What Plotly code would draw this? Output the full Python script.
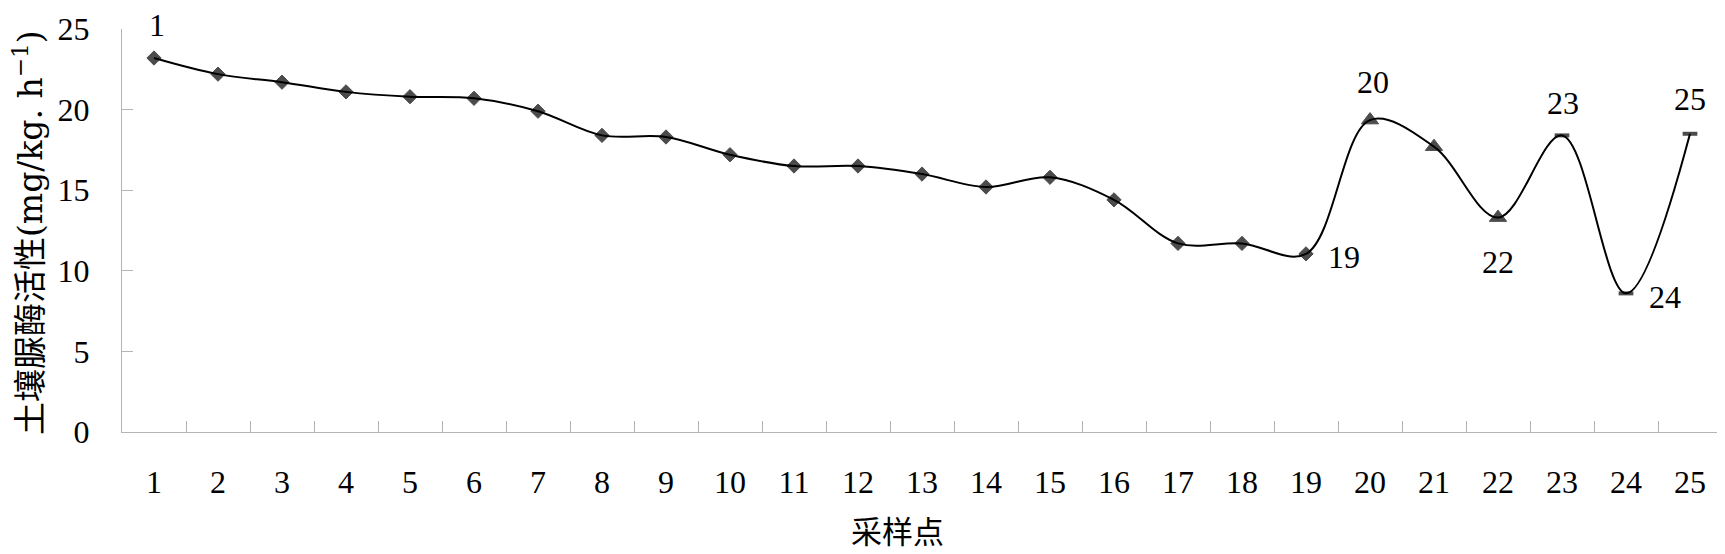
import plotly.graph_objects as go

# sampling points and urease activity (mg/kg.h-1)
points = [str(i) for i in range(1, 26)]
activity = [23.2, 22.2, 21.7, 21.1, 20.8, 20.7, 19.9, 18.4, 18.3, 17.2,
            16.5, 16.5, 16.0, 15.2, 15.8, 14.4, 11.7, 11.7, 11.05, 19.35,
            17.7, 13.3, 18.4, 8.6, 18.5]
symbols = ["diamond"] * 19 + ["triangle-up"] * 3 + ["line-ew"] * 3
labelled = ["1", "19", "20", "22", "23", "24", "25"]
y_ticks = [0, 5, 10, 15, 20, 25]

serif = "Liberation Serif, Noto Sans CJK SC, serif"

sizes = [11] * 19 + [15] * 3 + [10.5] * 3
line_w = [1] * 22 + [4] * 3

fig = go.Figure()
fig.add_trace(go.Scatter(
    x=points, y=activity,
    mode="lines+markers",
    line=dict(color="black", width=2, shape="spline", smoothing=1),
    marker=dict(symbol=symbols, size=sizes, color="black",
                line=dict(color="black", width=line_w)),
    showlegend=False,
))

# label offsets in pixels (x shift, y shift)
shifts = {"1": (3, 33), "19": (38, -3), "20": (3, 38), "22": (0, -44),
          "23": (1, 32), "24": (39, -4), "25": (0, 35)}
for p in labelled:
    i = points.index(p)
    dx, dy = shifts[p]
    # category axis: annotation x is the category index
    fig.add_annotation(x=i, y=activity[i], text=p, showarrow=False,
                       xshift=dx, yshift=dy,
                       font=dict(family=serif, size=32, color="black"))

fig.add_annotation(xref="paper", yref="paper", x=-0.0588, y=0.496,
                   text="土壤脲酶活性(mg/kg. h<sup>−1</sup>)", textangle=-90,
                   showarrow=False, xanchor="center", yanchor="middle",
                   font=dict(family="DejaVu Serif, Noto Sans CJK SC, serif",
                             size=33, color="black"))
fig.add_annotation(xref="paper", yref="paper", x=0.4846, y=-0.25,
                   text="采样点", showarrow=False,
                   xanchor="center", yanchor="middle",
                   font=dict(family=serif, size=31, color="black"))

fig.update_xaxes(type="category", tickson="boundaries", ticks="inside",
                 range=[-0.5, 24.5],
                 ticklen=11, tickcolor="#b4b4b4", showline=True,
                 linecolor="#b4b4b4", linewidth=1, showgrid=False,
                 zeroline=False, ticklabelstandoff=22,
                 tickfont=dict(family=serif, size=32, color="black"))
fig.update_yaxes(range=[0, 25], tickvals=y_ticks, ticks="inside",
                 ticklen=11, tickcolor="#b4b4b4", showline=True,
                 linecolor="#b4b4b4", linewidth=1, showgrid=False,
                 zeroline=False, ticklabelstandoff=25,
                 tickfont=dict(family=serif, size=32, color="black"))

# the page body has an 8px margin, so the figure is made 8px smaller
fig.update_layout(width=1717, height=546,
                  margin=dict(l=114, r=3, t=21, b=122),
                  plot_bgcolor="white", paper_bgcolor="white")

fig.write_html("out.html")
